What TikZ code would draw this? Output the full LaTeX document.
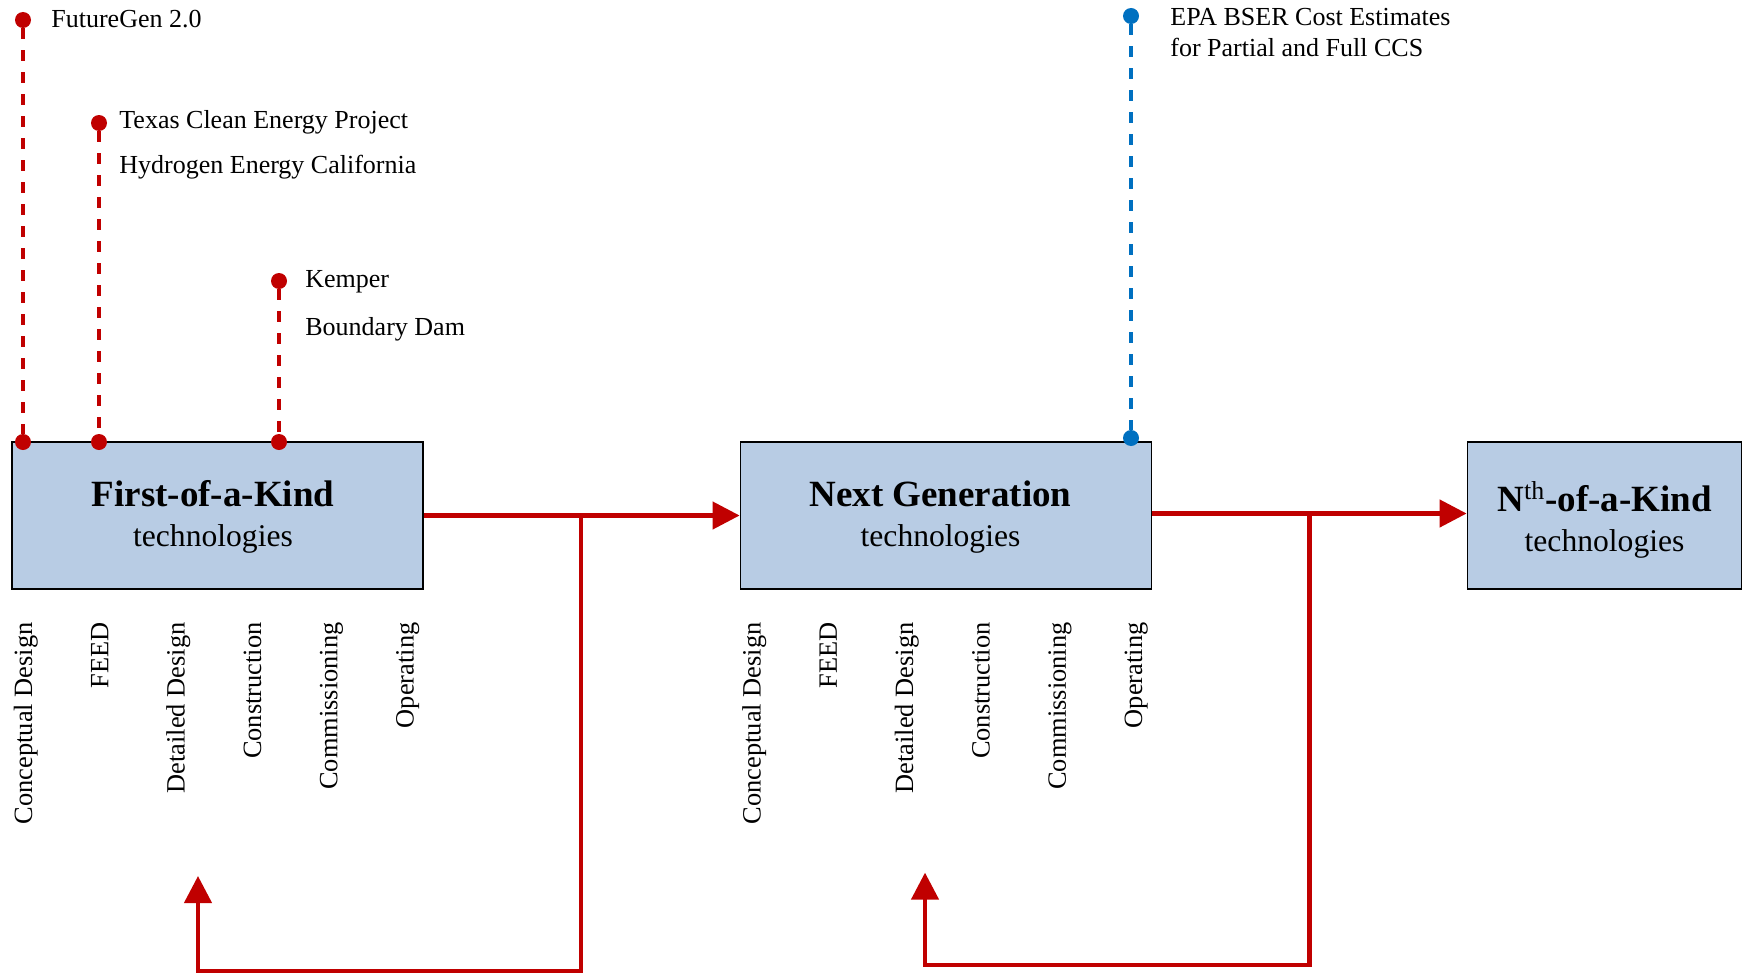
\documentclass[tikz,border=0pt]{standalone}
\usepackage{fontspec}
\setmainfont{Liberation Serif}
\usetikzlibrary{arrows.meta, calc}

\definecolor{boxblue}{RGB}{184,204,228}
\definecolor{flowred}{RGB}{192,0,0}
\definecolor{epablue}{RGB}{0,112,192}

\begin{document}
\begin{tikzpicture}[x=0.5pt, y=-0.5pt,
    stage/.style={draw=black, line width=0.9pt, fill=boxblue, minimum width=205.5pt,
        minimum height=73.5pt, inner sep=0pt},
    stagetitle/.style={anchor=base, inner sep=0pt, font=\fontsize{18.5pt}{20pt}\selectfont\bfseries},
    stagesub/.style={anchor=base, inner sep=0pt, font=\fontsize{15.8pt}{19pt}\selectfont},
    phaselabel/.style={rotate=90, anchor=base east, inner sep=0pt, font=\fontsize{13.2pt}{15pt}\selectfont},
    note/.style={anchor=base west, inner sep=0pt, font=\fontsize{13pt}{15pt}\selectfont},
    milestone/.style={circle, fill=#1, inner sep=0pt, minimum size=8pt},
    leader/.style={#1, line width=1.6pt, dash pattern=on 5.5pt off 5.5pt},
    flow/.style={flowred, line width=2.2pt, -{Triangle[length=13.5pt, width=13.5pt]}}]
    \useasboundingbox (0,0) rectangle (1743,974);

    % the three stages
    \node[stage] (foak) at (217.5,515.5) {};
    \node[stagetitle] (foak-title) at ($(foak.center)+(-4.5,-8.8)$) {First-of-a-Kind};
    \node[stagesub] (foak-sub) at ($(foak.center)+(-4.5,30.5)$) {technologies};

    \node[stage] (nextgen) at (946,515.5) {};
    \node[stagetitle] (nextgen-title) at ($(nextgen.center)+(-5.5,-8.8)$) {Next Generation};
    \node[stagesub] (nextgen-sub) at ($(nextgen.center)+(-5.5,30.5)$) {technologies};

    \node[stage, minimum width=137pt] (noak) at (1604.5,515.5) {};
    \node[stagetitle] (noak-title) at ($(noak.center)+(0,-3.8)$) {N\textsuperscript{\mdseries th}-of-a-Kind};
    \node[stagesub] (noak-sub) at ($(noak.center)+(0,36.2)$) {technologies};

    % project phases under each stage
    \foreach \tech in {foak, nextgen} {
        \foreach \phase [count=\i from 0] in {Conceptual Design, FEED, Detailed Design, Construction, Commissioning, Operating}
            \node[phaselabel] (\tech-\i) at ($(\tech.north west)+(21+76.3*\i,181)$) {\phase};
    }

    % FOAK projects and where they stand
    \node[milestone=flowred] (futuregen) at (23,20) {};
    \node[milestone=flowred] (futuregen-foot) at (23,442) {};
    \draw[leader=flowred] (futuregen) -- (futuregen-foot);
    \node[note] (futuregen-text) at (51,28) {FutureGen 2.0};

    \node[milestone=flowred] (texas) at (99,123) {};
    \node[milestone=flowred] (texas-foot) at (99,442) {};
    \draw[leader=flowred] (texas) -- (texas-foot);
    \node[note] (texas-text) at (119,128) {Texas Clean Energy Project};
    \node[note] (heca-text) at (119,173) {Hydrogen Energy California};

    \node[milestone=flowred] (kemper) at (279,281) {};
    \node[milestone=flowred] (kemper-foot) at (279,442) {};
    \draw[leader=flowred] (kemper) -- (kemper-foot);
    \node[note] (kemper-text) at (305,287) {Kemper};
    \node[note] (boundary-text) at (305,335) {Boundary Dam};

    % EPA estimates sit on next generation
    \node[milestone=epablue] (epa) at (1131,16) {};
    \node[milestone=epablue] (epa-foot) at (1131,438) {};
    \draw[leader=epablue] (epa) -- (epa-foot);
    \node[note] (epa-text) at (1170,26) {EPA BSER Cost Estimates};
    \node[note] (epa-text2) at (1170,57) {for Partial and Full CCS};

    % forward arrows
    \draw[flow] (foak.east) -- (nextgen.west);
    \draw[flow] ([yshift=1pt]nextgen.east) -- ([yshift=1pt]noak.west);

    % lessons fed back into detailed design
    \coordinate (split1) at (581,515.5);
    \coordinate (return1) at (198,876);
    \draw[flow] (split1) -- (split1 |- 0,971) -| (return1);

    \coordinate (split2) at (1309.5,513.5);
    \coordinate (return2) at (925,872.6);
    \draw[flow] (split2) -- (split2 |- 0,965) -| (return2);
\end{tikzpicture}
\end{document}
